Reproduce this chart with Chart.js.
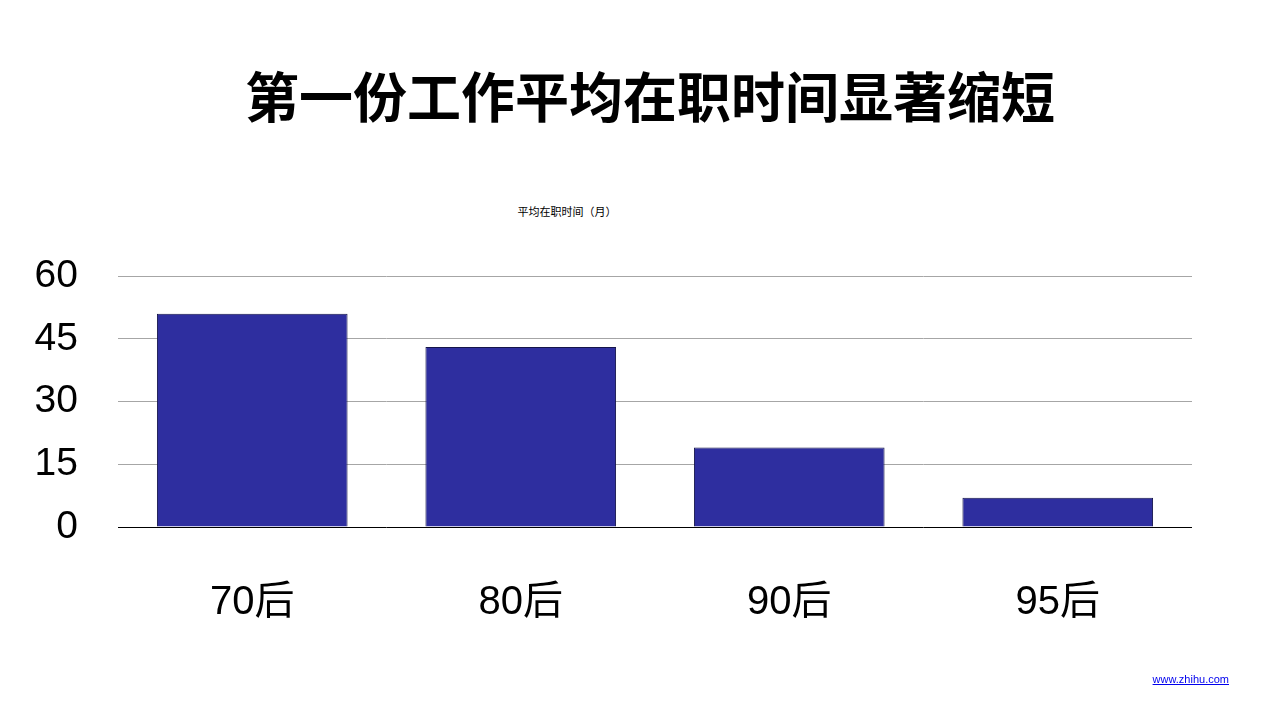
<!DOCTYPE html>
<html>
<head>
<meta charset="utf-8">
<script src="https://cdn.jsdelivr.net/npm/chart.js@4"></script>
<style>
  body { margin: 0; width: 1280px; height: 720px; background: #fff; position: relative; overflow: hidden;
         font-family: "Noto Sans CJK SC", "Liberation Sans", sans-serif; }
  #title { position: absolute; left: 0; width: 1300px; top: 55px; text-align: center;
           font-size: 54px; font-weight: bold; color: #000; }
  #sub { position: absolute; left: 467px; width: 200px; top: 203px; text-align: center; font-size: 11px; color: #000; }
  #link { position: absolute; right: 51px; top: 673px; font-size: 11px; color: #0000ee;
          text-decoration: underline; font-family: "Liberation Sans", sans-serif; }
  #wrap { position: absolute; left: 0; top: 0; width: 1280px; height: 720px; }
</style>
</head>
<body>
<div id="title">第一份工作平均在职时间显著缩短</div>
<div id="sub">平均在职时间（月）</div>
<div id="wrap"><canvas id="c" width="1280" height="720"></canvas></div>
<a id="link">www.zhihu.com</a>
<script>
// chart data
const categories = ['70后', '80后', '90后', '95后'];
const months = [51, 43, 19, 7];
const yTicks = [0, 15, 30, 45, 60];

const fontFamily = '"Liberation Sans", "Noto Sans CJK SC", sans-serif';

new Chart(document.getElementById('c'), {
    type: 'bar',
    data: {
        labels: categories,
        datasets: [{
            label: '平均在职时间（月）',
            data: months,
            backgroundColor: '#2e2e9f',
            borderColor: '#15154a',
            borderWidth: 1,
            categoryPercentage: 0.71,
            barPercentage: 1
        }]
    },
    options: {
        responsive: false,
        animation: false,
        layout: { padding: { top: 276, right: 88, left: 0, bottom: 0 } },
        plugins: { legend: { display: false }, tooltip: { enabled: false } },
        scales: {
            x: {
                grid: { display: false },
                border: { display: false },
                ticks: { color: '#000', padding: 44, font: { size: 40, family: fontFamily } },
                afterFit: s => { s.height = 193; }
            },
            y: {
                min: 0, max: 60,
                afterBuildTicks: s => { s.ticks = yTicks.map(v => ({ value: v })); },
                border: { display: false },
                grid: {
                    color: ctx => ctx.tick && ctx.tick.value === 0 ? '#000' : '#a6a6a6',
                    drawTicks: false
                },
                ticks: { color: '#000', padding: 40, font: { size: 39, family: fontFamily } },
                afterFit: s => { s.width = 118; }
            }
        }
    }
});
</script>
</body>
</html>
